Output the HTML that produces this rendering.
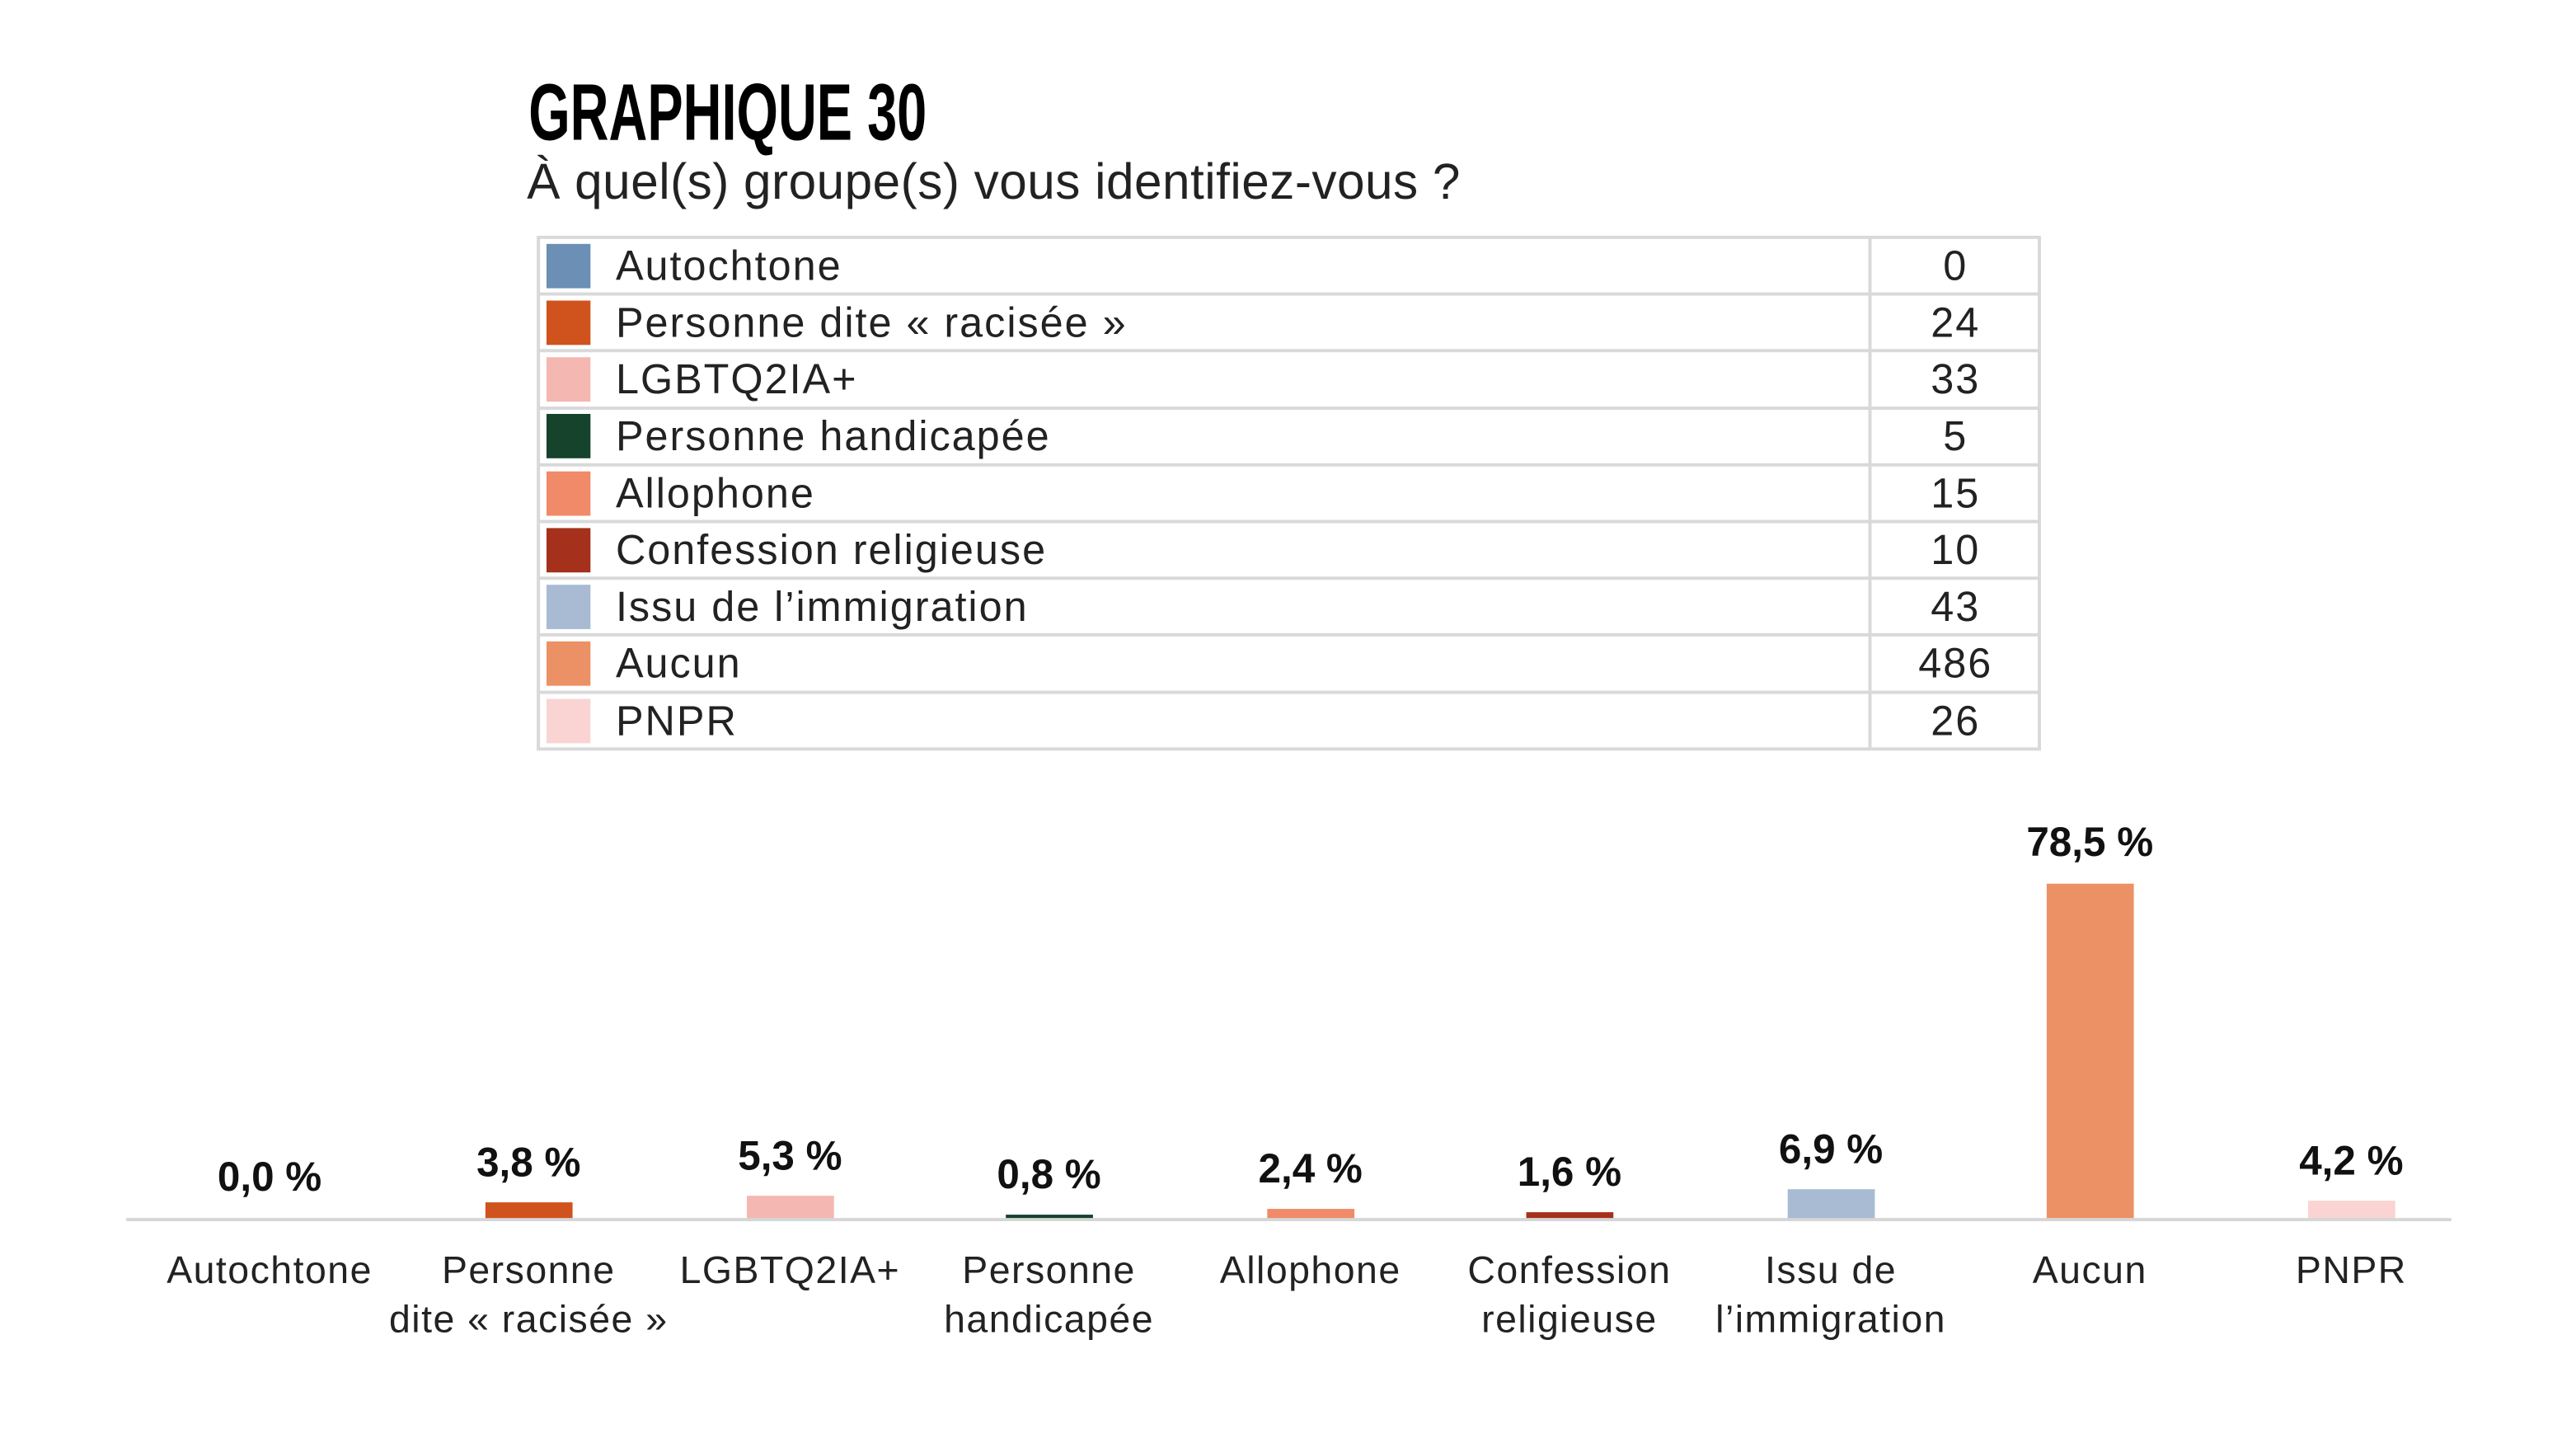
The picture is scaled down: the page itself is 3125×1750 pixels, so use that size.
<!DOCTYPE html>
<html><head><meta charset="utf-8"><style>
html,body{margin:0;padding:0;background:#fff;}
svg{display:block;}
text{font-family:"Liberation Sans",sans-serif;}
</style></head><body>
<svg width="3125" height="1750" viewBox="0 0 3125 1750" xmlns="http://www.w3.org/2000/svg">
<rect width="3125" height="1750" fill="#fff"/>
<g transform="translate(2 0) scale(0.988 0.996)">
<text x="647" y="170" font-size="98" font-weight="bold" fill="#000" transform="translate(647 0) scale(0.67 1) translate(-647 0)">GRAPHIQUE 30</text>
<text x="645" y="242" font-size="61" fill="#222" letter-spacing="0.5">À quel(s) groupe(s) vous identifiez-vous ?</text>
<g stroke="#d9d9d9" stroke-width="4" fill="none">
<rect x="659" y="289" width="1843" height="623"/>
<line x1="2294" y1="289" x2="2294" y2="912"/>
<line x1="659" y1="358" x2="2502" y2="358"/>
<line x1="659" y1="427" x2="2502" y2="427"/>
<line x1="659" y1="497" x2="2502" y2="497"/>
<line x1="659" y1="566" x2="2502" y2="566"/>
<line x1="659" y1="635" x2="2502" y2="635"/>
<line x1="659" y1="704" x2="2502" y2="704"/>
<line x1="659" y1="773" x2="2502" y2="773"/>
<line x1="659" y1="843" x2="2502" y2="843"/>
</g>
<g font-size="51" fill="#222" letter-spacing="2">
<rect x="669" y="297" width="54" height="54" fill="#6b8fb5"/><text x="754" y="341">Autochtone</text><text x="2399" y="341" text-anchor="middle">0</text>
<rect x="669" y="366" width="54" height="54" fill="#d0521c"/><text x="754" y="410">Personne dite « racisée »</text><text x="2399" y="410" text-anchor="middle">24</text>
<rect x="669" y="435" width="54" height="54" fill="#f5b7b1"/><text x="754" y="479">LGBTQ2IA+</text><text x="2399" y="479" text-anchor="middle">33</text>
<rect x="669" y="504" width="54" height="54" fill="#15432c"/><text x="754" y="548">Personne handicapée</text><text x="2399" y="548" text-anchor="middle">5</text>
<rect x="669" y="574" width="54" height="54" fill="#f08a68"/><text x="754" y="618">Allophone</text><text x="2399" y="618" text-anchor="middle">15</text>
<rect x="669" y="643" width="54" height="54" fill="#a5301c"/><text x="754" y="687">Confession religieuse</text><text x="2399" y="687" text-anchor="middle">10</text>
<rect x="669" y="712" width="54" height="54" fill="#a8bbd3"/><text x="754" y="756">Issu de l’immigration</text><text x="2399" y="756" text-anchor="middle">43</text>
<rect x="669" y="781" width="54" height="54" fill="#ec9165"/><text x="754" y="825">Aucun</text><text x="2399" y="825" text-anchor="middle">486</text>
<rect x="669" y="851" width="54" height="54" fill="#f9d4d2"/><text x="754" y="895">PNPR</text><text x="2399" y="895" text-anchor="middle">26</text>
</g>
<g>
<rect x="594" y="1464" width="107" height="20" fill="#d0521c"/>
<rect x="915" y="1456" width="107" height="28" fill="#f5b7b1"/>
<rect x="1233" y="1479" width="107" height="5" fill="#15432c"/>
<rect x="1554" y="1472" width="107" height="12" fill="#f08a68"/>
<rect x="1872" y="1476" width="107" height="8" fill="#a5301c"/>
<rect x="2193" y="1448" width="107" height="36" fill="#a8bbd3"/>
<rect x="2511" y="1076" width="107" height="408" fill="#ec9165"/>
<rect x="2832" y="1462" width="107" height="22" fill="#f9d4d2"/>
</g>
<line x1="153" y1="1485" x2="3008" y2="1485" stroke="#d6d6d6" stroke-width="4"/>
<g font-size="50" font-weight="bold" fill="#111" text-anchor="middle">
<text x="329" y="1450">0,0 %</text>
<text x="647" y="1432">3,8 %</text>
<text x="968" y="1424">5,3 %</text>
<text x="1286" y="1447">0,8 %</text>
<text x="1607" y="1440">2,4 %</text>
<text x="1925" y="1444">1,6 %</text>
<text x="2246" y="1416">6,9 %</text>
<text x="2564" y="1042">78,5 %</text>
<text x="2885" y="1430">4,2 %</text>
</g>
<g font-size="47" fill="#222" text-anchor="middle" letter-spacing="1.5">
<text x="329" y="1562">Autochtone</text>
<text x="647" y="1562">Personne</text><text x="647" y="1622">dite « racisée »</text>
<text x="968" y="1562">LGBTQ2IA+</text>
<text x="1286" y="1562">Personne</text><text x="1286" y="1622">handicapée</text>
<text x="1607" y="1562">Allophone</text>
<text x="1925" y="1562">Confession</text><text x="1925" y="1622">religieuse</text>
<text x="2246" y="1562">Issu de</text><text x="2246" y="1622">l’immigration</text>
<text x="2564" y="1562">Aucun</text>
<text x="2885" y="1562">PNPR</text>
</g>
</g>
</svg>
</body></html>
